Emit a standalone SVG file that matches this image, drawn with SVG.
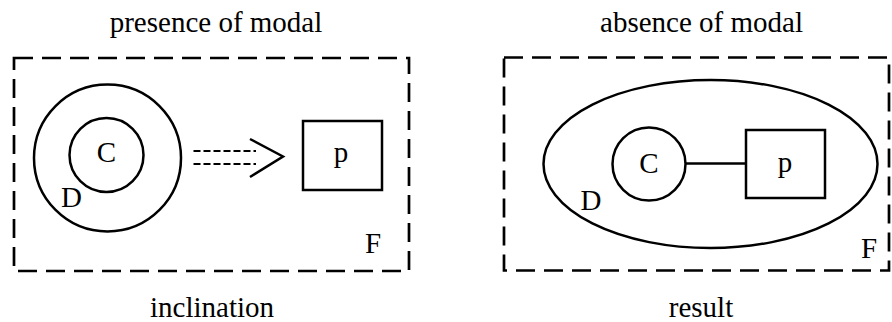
<svg xmlns="http://www.w3.org/2000/svg" width="892" height="322" viewBox="0 0 892 322">
<style>
  text { font-family: 'Liberation Serif', 'Times New Roman', serif; font-size: 29px; fill: #000; }
  .frame { fill: none; stroke: #000; stroke-width: 2.7; stroke-dasharray: 19 9; }
  .shape { fill: none; stroke: #000; stroke-width: 2.5; }
  .dash { fill: none; stroke: #000; stroke-width: 2; stroke-dasharray: 7 3; }
  .mid { text-anchor: middle; }
</style>
<rect width="892" height="322" fill="#fff"/>
<g id="left-panel">
  <text class="mid" x="216" y="32">presence of modal</text>
  <rect id="frameF1" class="frame" x="14" y="58" width="395" height="213"/>
  <g id="nodeD1">
    <circle class="shape" cx="107.5" cy="158" r="73.5"/>
    <text x="61" y="206.5">D</text>
  </g>
  <g id="nodeC1">
    <circle class="shape" cx="106.5" cy="155" r="37"/>
    <text class="mid" x="106.5" y="161.5">C</text>
  </g>
  <g id="nodeP1">
    <rect class="shape" x="303" y="121" width="79" height="69"/>
    <text class="mid" x="341" y="161.5">p</text>
  </g>
  <text x="365" y="253">F</text>
  <text class="mid" x="212" y="317">inclination</text>
</g>
<g id="right-panel">
  <text class="mid" x="701.5" y="32">absence of modal</text>
  <rect id="frameF2" class="frame" x="504" y="57.5" width="385" height="213"/>
  <g id="nodeD2">
    <ellipse class="shape" cx="710.5" cy="164" rx="167" ry="84"/>
    <text x="580.5" y="210">D</text>
  </g>
  <g id="nodeC2">
    <circle class="shape" cx="649" cy="164" r="36.5"/>
    <text class="mid" x="649" y="172.5">C</text>
  </g>
  <g id="nodeP2">
    <rect class="shape" x="746" y="130" width="79" height="68"/>
    <text class="mid" x="785" y="171.5">p</text>
  </g>
  <text x="861" y="258">F</text>
  <text class="mid" x="701" y="317">result</text>
</g>
<g id="connectors">
  <line class="dash" x1="193.5" y1="151" x2="256" y2="151"/>
  <line class="dash" x1="193.5" y1="164" x2="256" y2="164"/>
  <polyline class="shape" points="250,139 283,156.5 250,177"/>
  <line class="shape" x1="685.5" y1="163.5" x2="746" y2="163.5"/>
</g>
</svg>
